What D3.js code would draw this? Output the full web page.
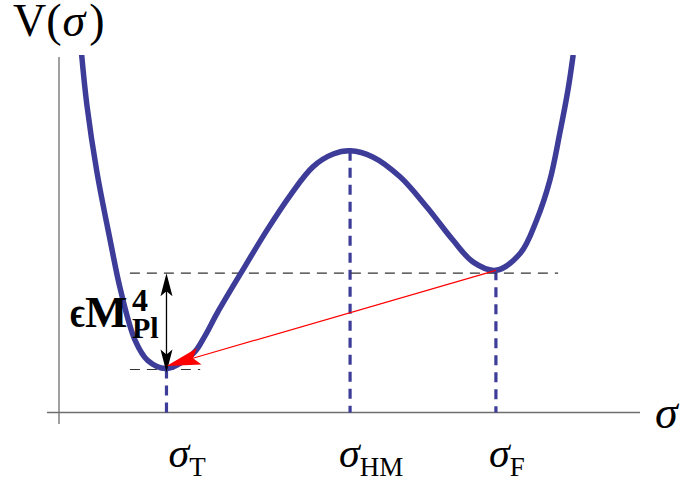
<!DOCTYPE html>
<html>
<head>
<meta charset="utf-8">
<script src="https://cdn.jsdelivr.net/npm/d3@7"></script>
<style>
  html, body { margin: 0; padding: 0; background: #fff; }
  svg { display: block; }
  text { font-family: "Liberation Serif", "Times New Roman", "DejaVu Serif", serif; fill: #000; }
</style>
</head>
<body>
<svg id="chart" width="687" height="483"></svg>
<script>
// ---- data (arbitrary units) ----
const sigmaSamples = [0.39, 0.48, 0.65, 0.88, 1.06, 1.31, 1.53, 1.85, 2.31, 2.51, 2.72, 3.13, 3.58, 3.98, 4.37, 4.72, 5.01, 5.40, 5.87, 6.33, 6.78, 7.13, 7.52, 7.94, 8.22, 8.45, 8.62, 8.76, 8.85];
const potentialSamples = [10.06, 8.65, 6.79, 4.85, 3.44, 2.03, 1.46, 1.24, 1.66, 2.15, 2.79, 3.92, 5.13, 6.11, 6.91, 7.27, 7.36, 7.19, 6.63, 5.78, 4.85, 4.23, 4.00, 4.48, 5.41, 6.54, 7.86, 9.07, 10.06];
const criticalNames = ["T", "HM", "F"];
const criticalSigma = [1.85, 5.01, 7.52];
const criticalV = [1.24, 7.36, 4.00];
const levelFalse = 3.92;   // dashed level of false vacuum
const levelTrue = 1.21;    // dashed level of true vacuum
const levelFalseSpan = [1.22, 8.59];
const levelTrueSpan = [1.22, 2.43];
const tunnelStart = [7.52, 4.00];
const tunnelEnd = [1.85, 1.31];

// ---- scales ----
const svg = d3.select("#chart");
const x = d3.scaleLinear().domain([0, 10]).range([59, 640]);
const y = d3.scaleLinear().domain([0, 10]).range([412.5, 57]);

const curveColor = "#3d3d99";

// axes
svg.append("line").attr("x1", 47).attr("x2", x(10)).attr("y1", y(0)).attr("y2", y(0))
  .attr("stroke", "#6e6e6e").attr("stroke-width", 1.3);
svg.append("line").attr("x1", x(0)).attr("x2", x(0)).attr("y1", y(10)).attr("y2", 424)
  .attr("stroke", "#6e6e6e").attr("stroke-width", 1.3);

// dashed verticals at critical points
svg.selectAll("line.crit").data(criticalSigma).join("line")
  .attr("class", "crit")
  .attr("x1", d => x(d)).attr("x2", d => x(d))
  .attr("y1", (d, i) => y(criticalV[i])).attr("y2", y(0))
  .attr("stroke", curveColor).attr("stroke-width", 3.2)
  .attr("stroke-dasharray", "10,7");

// horizontal dashed levels
[[levelFalse, levelFalseSpan], [levelTrue, levelTrueSpan]].forEach(([lv, sp]) => {
  svg.append("line").attr("x1", x(sp[0])).attr("x2", x(sp[1]))
    .attr("y1", y(lv)).attr("y2", y(lv))
    .attr("stroke", "#333").attr("stroke-width", 1.2).attr("stroke-dasharray", "10,7");
});

// potential curve
svg.append("clipPath").attr("id", "clip").append("rect")
  .attr("x", 0).attr("y", 55).attr("width", 687).attr("height", 430);
const line = d3.line().x(d => x(d[0])).y(d => y(d[1])).curve(d3.curveCatmullRom.alpha(0.5));
svg.append("path")
  .datum(sigmaSamples.map((s, i) => [s, potentialSamples[i]]))
  .attr("d", line)
  .attr("clip-path", "url(#clip)")
  .attr("fill", "none").attr("stroke", curveColor).attr("stroke-width", 5.5)
  .attr("stroke-linejoin", "round");

// arrowhead helper
function arrowHead(tip, from, len, half, notch, color) {
  const dx = from[0] - tip[0], dy = from[1] - tip[1];
  const L = Math.hypot(dx, dy);
  const ux = dx / L, uy = dy / L, nx = -uy, ny = ux;
  const pts = [
    tip,
    [tip[0] + ux * len + nx * half, tip[1] + uy * len + ny * half],
    [tip[0] + ux * notch, tip[1] + uy * notch],
    [tip[0] + ux * len - nx * half, tip[1] + uy * len - ny * half]
  ];
  svg.append("polygon").attr("points", pts.map(p => p.join(",")).join(" ")).attr("fill", color);
}

// black double arrow (epsilon M^4)
const ax = x(criticalSigma[0]);
const aTop = [ax, y(levelFalse)], aBot = [ax, y(levelTrue) + 3];
svg.append("line").attr("x1", ax).attr("x2", ax).attr("y1", aTop[1] + 10).attr("y2", aBot[1] - 10)
  .attr("stroke", "#000").attr("stroke-width", 1.3);
arrowHead(aTop, aBot, 23, 6, 18, "#000");
arrowHead(aBot, aTop, 23, 6, 18, "#000");

// red tunnelling arrow
const rS = [x(tunnelStart[0]), y(tunnelStart[1])], rE = [x(tunnelEnd[0]), y(tunnelEnd[1])];
svg.append("line").attr("x1", rS[0]).attr("y1", rS[1]).attr("x2", rE[0] + (rS[0]-rE[0])*0.08).attr("y2", rE[1] + (rS[1]-rE[1])*0.08)
  .attr("stroke", "#ff0000").attr("stroke-width", 1.2);
arrowHead(rE, rS, 34, 8.5, 27.6, "#ff0000");

// labels
const yl = svg.append("text").attr("x", 13).attr("y", 36).attr("font-size", 46);
yl.append("tspan").text("V(");
yl.append("tspan").attr("font-style", "italic").attr("dx", 1).text("σ");
yl.append("tspan").attr("dx", 4).text(")");

svg.append("text").attr("x", 655).attr("y", 428).attr("font-size", 46)
  .attr("font-style", "italic").text("σ");

const labelDx = [2, -11, -7];
criticalSigma.forEach((s, i) => {
  const t = svg.append("text").attr("x", x(s) + labelDx[i]).attr("y", 467);
  t.append("tspan").attr("font-size", 42).attr("font-style", "italic").text("σ");
  t.append("tspan").attr("font-size", 27).attr("dy", 9).text(criticalNames[i]);
});

svg.append("text").attr("x", 70).attr("y", 327).attr("font-size", 45).attr("font-weight", "bold")
  .attr("textLength", 15).attr("lengthAdjust", "spacingAndGlyphs").text("ϵ");
svg.append("text").attr("x", 85).attr("y", 327).attr("font-size", 45).attr("font-weight", "bold").text("M");
svg.append("text").attr("x", 132).attr("y", 311).attr("font-size", 32).attr("font-weight", "bold").text("4");
svg.append("text").attr("x", 132).attr("y", 338).attr("font-size", 30).attr("font-weight", "bold").text("Pl");
</script>
</body>
</html>
